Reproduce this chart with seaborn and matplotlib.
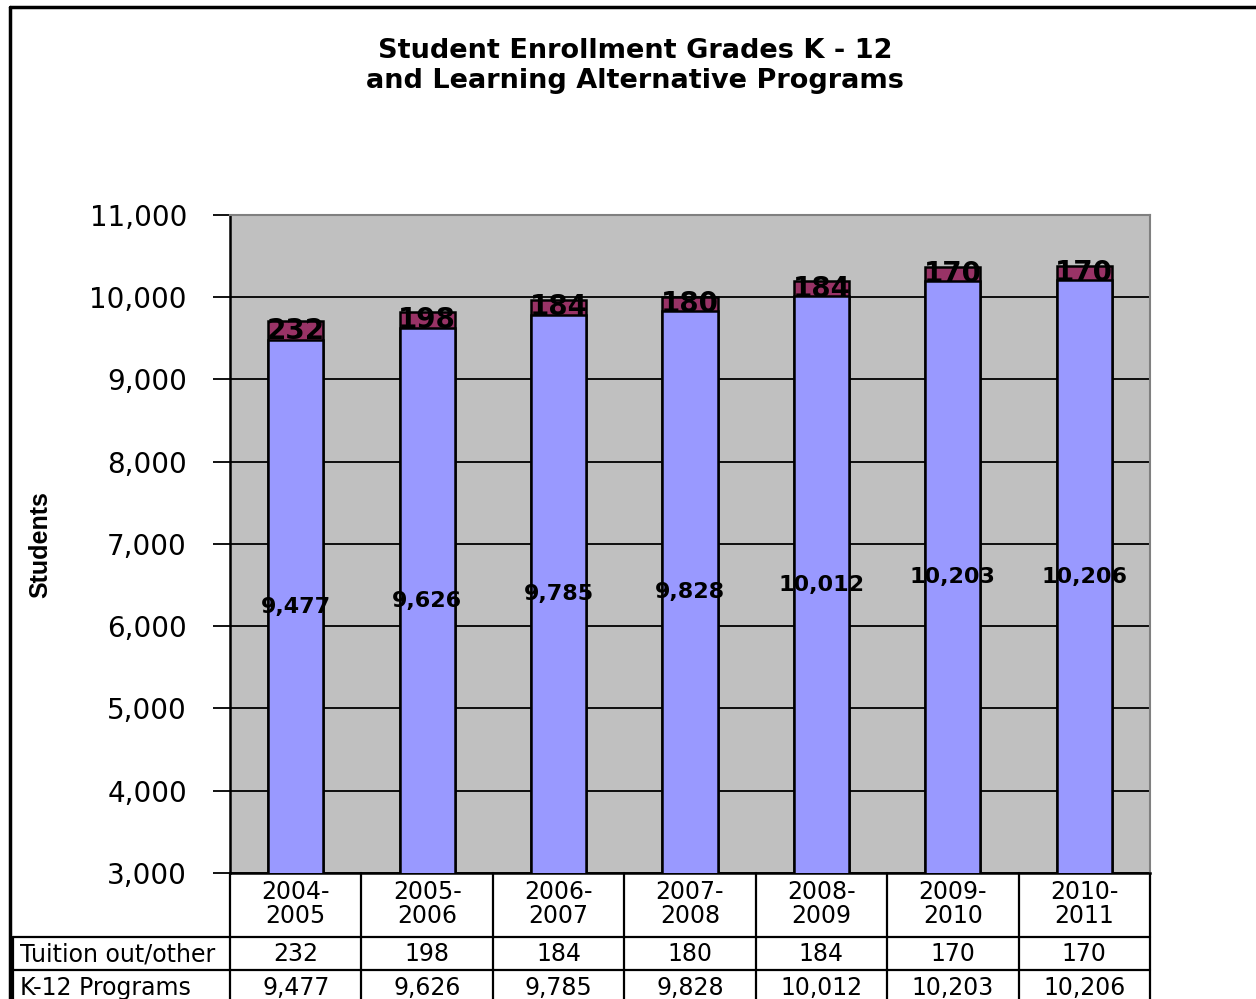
import matplotlib
matplotlib.use("Agg")
import matplotlib.pyplot as plt
import matplotlib.transforms as mtransforms
from matplotlib.lines import Line2D
import seaborn as sns
import pandas as pd

categories = ["2004-\n2005", "2005-\n2006", "2006-\n2007", "2007-\n2008",
              "2008-\n2009", "2009-\n2010", "2010-\n2011"]
tuition = [232, 198, 184, 180, 184, 170, 170]
k12 = [9477, 9626, 9785, 9828, 10012, 10203, 10206]
series_names = ["Tuition out/other", "K-12 Programs"]
yticks = [3000, 4000, 5000, 6000, 7000, 8000, 9000, 10000, 11000]

BLUE = "#9999FF"
MAROON = "#993366"
GRAY = "#C0C0C0"

sns.set_theme(style="white", rc={"text.color": "black", "axes.labelcolor": "black",
                                 "xtick.color": "black", "ytick.color": "black"})
plt.rcParams['font.family'] = ['DejaVu Sans']

df = pd.DataFrame({"cat": categories, "tuition": tuition, "k12": k12})
df["total"] = df["tuition"] + df["k12"]

fig = plt.figure(figsize=(12.56, 9.99), dpi=100)
ax = fig.add_axes([230/1256, 1-873/999, 920/1256, 658/999])
ax.set_facecolor(GRAY)

sns.barplot(data=df, x="cat", y="total", color=MAROON, width=0.42,
            edgecolor="black", linewidth=1.8, saturation=1, ax=ax, zorder=3)
sns.barplot(data=df, x="cat", y="k12", color=BLUE, width=0.42,
            edgecolor="black", linewidth=1.8, saturation=1, ax=ax, zorder=4)

ax.set_ylim(3000, 11000)
ax.set_xlim(-0.5, len(categories) - 0.5)
ax.set_yticks(yticks)
ax.set_yticklabels([f"{v:,}" for v in yticks], fontsize=20, color="black")
ax.set_xticks([])
ax.set_xlabel("")
ax.set_ylabel("")
ax.yaxis.grid(True, color="black", linewidth=1.3, zorder=1)
ax.set_axisbelow(True)
ax.tick_params(axis="y", direction="out", length=12, width=1.3, color="black",
               pad=19, left=True)
for s in ["top", "right"]:
    ax.spines[s].set_color("#808080")
    ax.spines[s].set_linewidth(1.5)
ax.spines["left"].set_color("black")
ax.spines["left"].set_linewidth(1.8)
ax.spines["bottom"].set_color("black")
ax.spines["bottom"].set_linewidth(1.8)

# data labels
for i, (t, k) in enumerate(zip(tuition, k12)):
    ax.text(i, k + t / 2, f"{t:,}", ha="center", va="center", fontsize=20,
            fontweight="bold", color="black", zorder=6)
    ax.text(i, (3000 + k) / 2, f"{k:,}", ha="center", va="center", fontsize=16,
            fontweight="bold", color="black", zorder=6)

# title and y label
fig.text(635/1256, 1-66/999, "Student Enrollment Grades K - 12\nand Learning Alternative Programs",
         ha="center", va="center", fontsize=19.5, fontweight="bold", linespacing=1.2,
         color="black")
fig.text(40/1256, 1-545/999, "Students", rotation=90, ha="center", va="center",
         fontsize=18, fontweight="bold", family=["Liberation Sans", "DejaVu Sans"],
         color="black")

# data table
trans = mtransforms.blended_transform_factory(ax.transData, ax.transAxes)
n = len(categories)
y_r1 = -(937 - 873) / 658
y_r2 = -(970 - 873) / 658
y_bot = -0.25
xl = (13 - 230) / 920
lw = 1.6
for b in range(n + 1):
    ax.add_line(Line2D([b - 0.5, b - 0.5], [0, y_bot], transform=trans,
                       color="black", lw=lw, clip_on=False))
for yy in [y_r1, y_r2]:
    ax.add_line(Line2D([xl, 1], [yy, yy], transform=ax.transAxes,
                       color="black", lw=lw, clip_on=False))
ax.add_line(Line2D([xl, xl], [y_r1, y_bot], transform=ax.transAxes,
                   color="black", lw=lw, clip_on=False))

hdr_y = -(904 - 873) / 658
row_ys = [-(954 - 873) / 658, -(988 - 873) / 658]
for i, c in enumerate(categories):
    ax.text(i, hdr_y, c, transform=trans, ha="center", va="center", fontsize=17,
            linespacing=1.0, clip_on=False, color="black")
    ax.text(i, row_ys[0], f"{tuition[i]:,}", transform=trans, ha="center",
            va="center", fontsize=17, clip_on=False, color="black")
    ax.text(i, row_ys[1], f"{k12[i]:,}", transform=trans, ha="center",
            va="center", fontsize=17, clip_on=False, color="black")
xlab = (20 - 230) / 920
for name, yy in zip(series_names, row_ys):
    ax.text(xlab, yy, name, transform=ax.transAxes, ha="left", va="center",
            fontsize=17, clip_on=False, color="black")

# outer chart frame
fig.add_artist(Line2D([10/1256, 1], [1-7/999, 1-7/999], transform=fig.transFigure,
                      color="black", lw=2.5))
fig.add_artist(Line2D([10/1256, 10/1256], [0, 1-7/999], transform=fig.transFigure,
                      color="black", lw=2.5))

fig.savefig("out.png", dpi=100, facecolor="white")
